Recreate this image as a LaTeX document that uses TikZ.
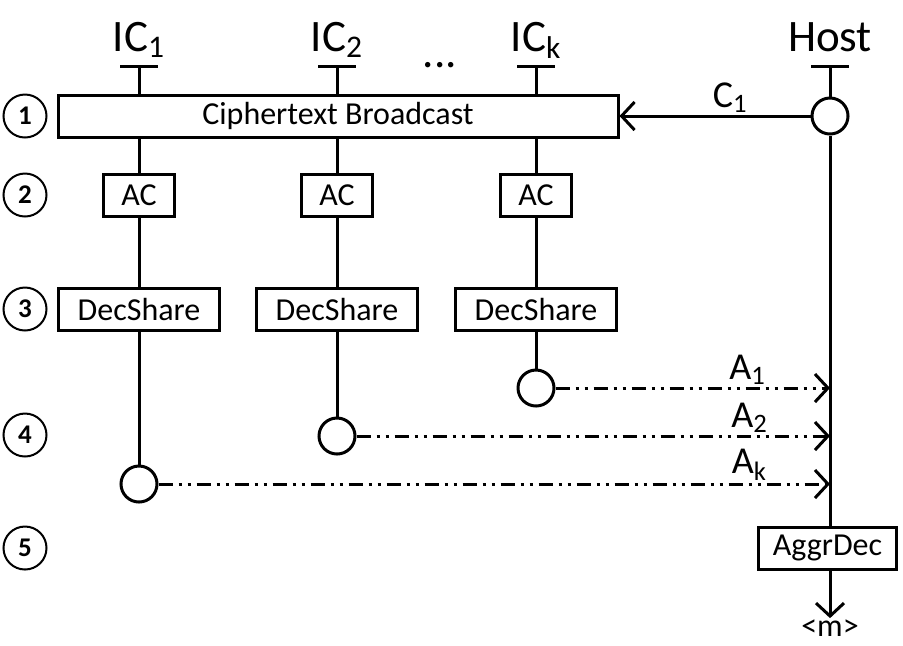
\documentclass[tikz,border=0pt]{standalone}
\usepackage{fontspec}
\setmainfont{Carlito}
\usetikzlibrary{arrows.meta, positioning, calc}

\begin{document}
\begin{tikzpicture}[x=0.5pt, y=-0.5pt, line width=1.5pt,
    box/.style={rectangle, draw, minimum height=21pt, inner sep=0pt, font=\fontsize{16}{18}\selectfont},
    stepmark/.style={circle, draw, line width=1pt, minimum size=21.5pt, inner sep=0pt, font=\bfseries\fontsize{13.5}{15}\selectfont},
    port/.style={circle, draw, fill=white, minimum size=18pt, inner sep=0pt},
    party/.style={anchor=base, inner sep=0pt, font=\fontsize{22.5}{26}\selectfont},
    msg/.style={above, inner sep=1pt, font=\fontsize{19}{22}\selectfont},
    tip/.style={-{Straight Barb[length=6.5pt,width=14pt]}},
    reply/.style={tip, dash pattern=on 7pt off 3pt on 1.5pt off 3pt on 1.5pt off 3pt}]
    \useasboundingbox (0,0) rectangle (903,645);

    % parties
    \node (ICa) [party] at (139,51) {IC\textsubscript{1}};
    \node (ICb) [party] at (337,51) {IC\textsubscript{2}};
    \node (Dots) [party] at (440,67) {...};
    \node (ICk) [party] at (536,51) {IC\textsubscript{k}};
    \node (Host) [party] at (830,51) {Host};
    \coordinate (ICaTop) at (139,66);
    \coordinate (ICbTop) at (337,66);
    \coordinate (ICkTop) at (536,66);
    \coordinate (HostTop) at (830,66);
    \foreach \t in {ICaTop, ICbTop, ICkTop, HostTop}
        \draw ([xshift=-9.5pt]\t) -- ([xshift=9.5pt]\t);

    % steps
    \node (S1) [stepmark] at (25,116) {1};
    \node (S2) [stepmark] at (25,195) {2};
    \node (S3) [stepmark] at (25,309) {3};
    \node (S4) [stepmark] at (25,435) {4};
    \node (S5) [stepmark] at (25,548) {5};

    % step 1
    \node (Broadcast) [box, minimum width=280pt] at (338,116) {Ciphertext Broadcast};
    \node (HostIn) [port] at (830,116) {};
    \draw (HostTop) -- (HostIn);
    \draw[tip] (HostIn) -- node[msg, pos=0.42] {C\textsubscript{1}} (Broadcast.east);
    \draw (ICaTop) -- (ICaTop |- Broadcast.north);
    \draw (ICbTop) -- (ICbTop |- Broadcast.north);
    \draw (ICkTop) -- (ICkTop |- Broadcast.north);

    % step 2
    \node (ACa) [box, minimum width=35.5pt] at (139,195) {AC};
    \node (ACb) [box, minimum width=35.5pt] at (337,195) {AC};
    \node (ACk) [box, minimum width=35.5pt] at (536,195) {AC};
    \draw (ACa |- Broadcast.south) -- (ACa);
    \draw (ACb |- Broadcast.south) -- (ACb);
    \draw (ACk |- Broadcast.south) -- (ACk);

    % step 3
    \node (DSa) [box, minimum width=80.5pt] at (139,309) {DecShare};
    \node (DSb) [box, minimum width=80.5pt] at (337,309) {DecShare};
    \node (DSk) [box, minimum width=80.5pt] at (536,309) {DecShare};
    \draw (ACa) -- (DSa);
    \draw (ACb) -- (DSb);
    \draw (ACk) -- (DSk);

    % step 4
    \node (OutK) [port] at (536,388) {};
    \node (OutB) [port] at (337,436) {};
    \node (OutA) [port] at (139,484) {};
    \draw (DSk) -- (OutK);
    \draw (DSb) -- (OutB);
    \draw (DSa) -- (OutA);
    \coordinate (InK) at (830,388);
    \coordinate (InB) at (830,436);
    \coordinate (InA) at (830,484);
    \draw[reply] (OutK) -- node[msg, pos=0.7] {A\textsubscript{1}} (InK);
    \draw[reply] (OutB) -- node[msg, pos=0.83] {A\textsubscript{2}} (InB);
    \draw[reply] (OutA) -- node[msg, pos=0.88] {A\textsubscript{k}} (InA);

    % step 5
    \node (Aggr) [box, minimum width=69pt] at (827.5,548) {AggrDec};
    \node (Msg) [inner sep=0pt, font=\fontsize{16}{18}\selectfont] at (830,628) {<m>};
    \draw (HostIn) -- (HostIn |- Aggr.north);
    \draw[tip] (HostIn |- Aggr.south) -- (Msg);
\end{tikzpicture}
\end{document}
